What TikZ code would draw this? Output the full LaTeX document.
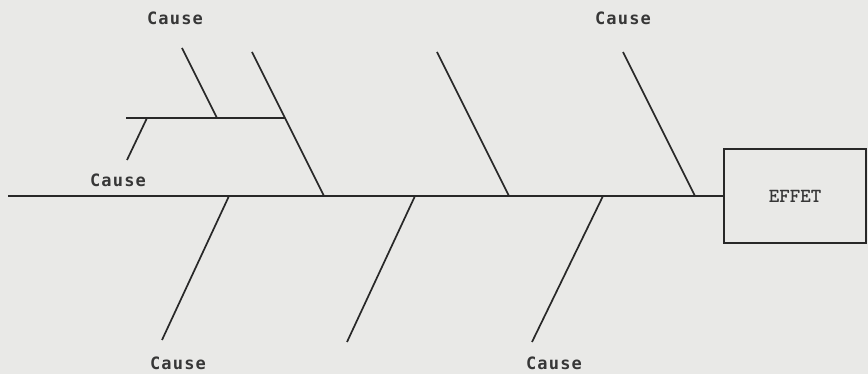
\documentclass[tikz,border=0pt]{standalone}
\usepackage{fontspec}
\newfontfamily\causefont[LetterSpace=7]{DejaVu Sans Mono}
\usetikzlibrary{positioning}
\definecolor{paperbg}{RGB}{233,233,231}
\definecolor{inkgray}{RGB}{40,40,40}
\definecolor{labelgray}{RGB}{55,55,55}

\begin{document}
\begin{tikzpicture}[
  x=1pt, y=-1pt,
  bone/.style={line width=1.7pt, draw=inkgray},
  cause/.style={inner sep=0pt, text=labelgray,
                font={\fontsize{17}{17}\selectfont\causefont\bfseries}},
  effetbox/.style={rectangle, draw=inkgray, line width=1.7pt,
                   minimum width=142pt, minimum height=94pt, text=labelgray,
                   font={\fontsize{20}{20}\selectfont\ttfamily\bfseries}}
]
\fill[paperbg] (0,0) rectangle (868,374);
\useasboundingbox (0,0) rectangle (868,374);

\node[effetbox] (effet) at (795,196) {EFFET};
\coordinate (tail) at (8,196);

% spine ends of the bones
\coordinate (s1) at (324,196);
\coordinate (s2) at (509,196);
\coordinate (s3) at (695,196);
\coordinate (s4) at (229,196);
\coordinate (s5) at (415,196);
\coordinate (s6) at (603,196);
% free ends
\coordinate (u1) at (252,52);
\coordinate (u2) at (437,52);
\coordinate (u3) at (623,52);
\coordinate (l1) at (162,340);
\coordinate (l2) at (347,342);
\coordinate (l3) at (532,342);
% the small branch
\coordinate (b0) at (126,118);
\coordinate (b1) at (285,118);
\coordinate (b2) at (217,118);
\coordinate (b3) at (182,48);
\coordinate (b4) at (147,118);
\coordinate (b5) at (127,160);

\draw[bone] (tail) -- (effet.west);
\draw[bone] (u1) -- (s1);
\draw[bone] (u2) -- (s2);
\draw[bone] (u3) -- (s3);
\draw[bone] (s4) -- (l1);
\draw[bone] (s5) -- (l2);
\draw[bone] (s6) -- (l3);
\draw[bone] (b0) -- (b1);
\draw[bone] (b3) -- (b2);
\draw[bone] (b4) -- (b5);

\node[cause] (c1) at (175,18) {Cause};
\node[cause] (c2) at (623,18) {Cause};
\node[cause] (c3) at (118,180) {Cause};
\node[cause] (c4) at (178,363) {Cause};
\node[cause] (c5) at (554,363) {Cause};
\end{tikzpicture}
\end{document}
